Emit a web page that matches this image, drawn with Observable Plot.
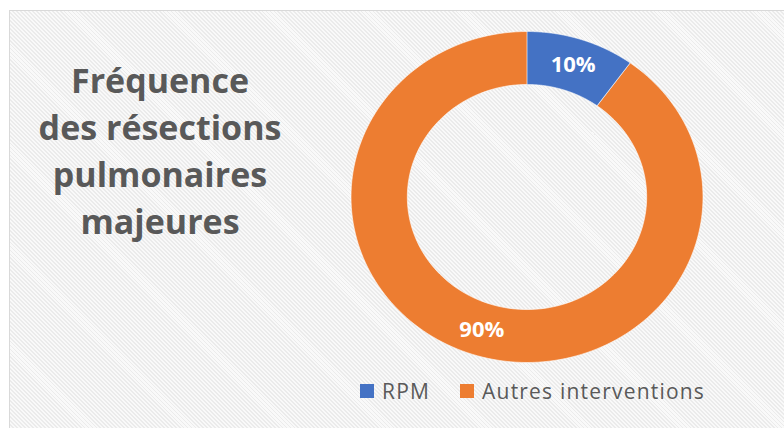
<!DOCTYPE html>
<html><head><meta charset="utf-8">
<script src="https://cdn.jsdelivr.net/npm/d3@7"></script>
<script src="https://cdn.jsdelivr.net/npm/@observablehq/plot@0.6"></script>
<style>
html,body{margin:0;padding:0;width:784px;height:428px;overflow:hidden;background:#fff;}
#frame{position:absolute;left:9px;top:10px;width:800px;height:440px;border:1px solid #d9d9d9;
  background:repeating-linear-gradient(45deg,#f9f9f9 0px,#f9f9f9 1.5px,#ebebeb 1.5px,#ebebeb 2.8px);}
#title{position:absolute;left:0;top:57px;width:320px;text-align:center;font-family:"Open Sans";font-weight:700;font-size:34px;line-height:47px;color:#595959;}
#chart{position:absolute;left:0;top:0;}
#legend{position:absolute;left:360px;top:380px;display:flex;align-items:center;font-family:"Open Sans";font-size:21px;letter-spacing:1.2px;line-height:22px;color:#595959;white-space:nowrap;}
#legend .sw{width:14px;height:14px;margin-right:8px;}
#legend .item{display:flex;align-items:center;margin-right:30px;}
</style></head><body>
<div id="frame"></div>
<div id="title"></div>
<div id="chart"></div>
<div id="legend"></div>
<script>
const categories = ["RPM", "Autres interventions"];
const values = [10, 90];
const colors = ["#4472C4", "#ED7D31"];
const titleLines = ["Fréquence", "des résections", "pulmonaires", "majeures"];

const innerRatio = 0.68;
const total = d3.sum(values);
const pts = [];
const labels = [];
let cum = 0;
categories.forEach((name, i) => {
  const a0 = 2 * Math.PI * cum / total;
  const a1 = 2 * Math.PI * (cum + values[i]) / total;
  const steps = 180;
  for (let k = 0; k <= steps; k++) {
    const a = a0 + (a1 - a0) * k / steps;
    pts.push({name, xo: Math.sin(a), yo: Math.cos(a), xi: innerRatio * Math.sin(a), yi: innerRatio * Math.cos(a)});
  }
  const am = (a0 + a1) / 2, rm = (1 + innerRatio) / 2;
  labels.push({name, x: rm * Math.sin(am), y: rm * Math.cos(am), t: Math.round(values[i] / total * 100) + "%"});
  cum += values[i];
});

const chart = Plot.plot({
  width: 784, height: 428, margin: 0,
  x: {domain: [-1, 1], range: [351, 703], axis: null},
  y: {domain: [-1, 1], range: [362.5, 31.5], axis: null},
  color: {domain: categories, range: colors},
  style: {background: "transparent", overflow: "visible"},
  marks: [
    Plot.area(pts, {x1: "xo", y1: "yo", x2: "xi", y2: "yi", z: "name", fill: "name", stroke: "white", strokeWidth: 0.6}),
    Plot.text(labels, {x: "x", y: "y", text: "t", fill: "white", fontSize: 22, fontWeight: "bold", fontFamily: "Open Sans"})
  ]
});
document.getElementById("chart").appendChild(chart);

const title = document.getElementById("title");
titleLines.forEach(l => { const d = document.createElement("div"); d.textContent = l; title.appendChild(d); });

const legend = document.getElementById("legend");
categories.forEach((c, i) => {
  const it = document.createElement("div"); it.className = "item";
  const sw = document.createElement("div"); sw.className = "sw"; sw.style.background = colors[i];
  const tx = document.createElement("span"); tx.textContent = c;
  it.appendChild(sw); it.appendChild(tx); legend.appendChild(it);
});
</script>
</body></html>
